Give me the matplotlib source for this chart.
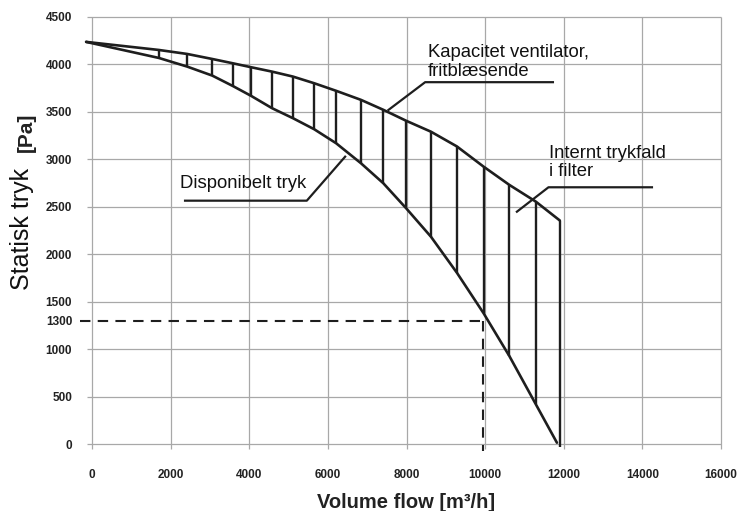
import matplotlib.pyplot as plt

# hatch positions along the flow axis and the two curves at each of them
flow = [-150, 1700, 2420, 3060, 3580, 4050, 4580, 5110, 5650, 6210, 6840,
        7410, 7990, 8620, 9280, 9960, 10615, 11285, 11900]
kapacitet = [4235, 4150, 4108, 4055, 4010, 3968, 3922, 3870, 3800, 3720, 3625,
             3520, 3405, 3290, 3135, 2922, 2730, 2555, 2355]
disponibel = [4235, 4066, 3975, 3880, 3771, 3666, 3537, 3432, 3316, 3168, 2958,
              2747, 2484, 2185, 1806, 1379, 929, 424, -30]
disp_end = (11825, 17)

arbejdspunkt = (9950, 1300)

x_ticks = [0, 2000, 4000, 6000, 8000, 10000, 12000, 14000, 16000]
y_ticks = [0, 500, 1000, 1300, 1500, 2000, 2500, 3000, 3500, 4000, 4500]
y_grid = [0, 500, 1000, 1500, 2000, 2500, 3000, 3500, 4000, 4500]

plt.rcParams['font.family'] = ['Liberation Sans', 'DejaVu Sans']

fig = plt.figure(figsize=(7.38, 5.11), dpi=100)
ax = fig.add_axes([0.1034, 0.0933, 0.8843, 0.8833])
ax.set_xlim(-400, 16200)
ax.set_ylim(-200, 4550)
for s in ax.spines.values():
    s.set_visible(False)

# grid
ax.hlines(y_grid, -120, 16000, color='#a8a8a8', lw=0.9, zorder=1)
ax.vlines(x_ticks, -45, 4500, color='#a8a8a8', lw=0.9, zorder=1)

ax.set_xticks(x_ticks)
ax.set_yticks(y_ticks)
ax.tick_params(length=0)
ax.tick_params(axis='x', pad=4)
ax.tick_params(axis='y', pad=3)
for lab in ax.get_xticklabels() + ax.get_yticklabels():
    lab.set_fontsize(8.5)
    lab.set_fontweight('bold')
    lab.set_color('#222222')

lc = '#1e1e1e'
# curves
ax.plot(flow, kapacitet, color=lc, lw=1.9, zorder=3, solid_capstyle='round')
ax.plot(flow[:-1] + [disp_end[0]], disponibel[:-1] + [disp_end[1]],
        color=lc, lw=1.9, zorder=3, solid_capstyle='round')
# hatch
ax.vlines(flow[1:], disponibel[1:], kapacitet[1:], color=lc, lw=1.7, zorder=3)

# working point
ax.plot([-300, arbejdspunkt[0]], [arbejdspunkt[1], arbejdspunkt[1]],
        color=lc, lw=1.5, dashes=(5, 3.5), zorder=2)
ax.plot([arbejdspunkt[0], arbejdspunkt[0]], [arbejdspunkt[1], -70],
        color=lc, lw=1.5, dashes=(5, 3.5), zorder=2)

# annotations
ax.text(8540, 4022, 'Kapacitet ventilator,\nfritblæsende', fontsize=13.3,
        va='center', ha='left', linespacing=1.15, color='#111111')
ax.plot([7540, 8473, 11723], [3519, 3811, 3811], color=lc, lw=1.6, zorder=3)

ax.text(11636, 2966, 'Internt trykfald\ni filter', fontsize=13.3,
        va='center', ha='left', linespacing=1.15, color='#111111')
ax.plot([10807, 11610, 14242], [2448, 2705, 2705], color=lc, lw=1.6, zorder=3)

ax.text(2239, 2747, 'Disponibelt tryk', fontsize=13.3,
        va='center', ha='left', color='#111111')
ax.plot([2366, 5463, 6438], [2564, 2564, 3027], color=lc, lw=1.6, zorder=3)

# axis labels
fig.text(406 / 738, 1 - 502.7 / 511, 'Volume flow [m³/h]', fontsize=14.5,
         fontweight='bold', ha='center', va='center', color='#222222')
fig.text(22 / 738, 1 - 229 / 511, 'Statisk tryk', fontsize=18, rotation=90,
         ha='center', va='center', color='#111111')
fig.text(26 / 738, 1 - 132.5 / 511, '[Pa]', fontsize=15, fontweight='bold',
         rotation=90, ha='center', va='center', color='#222222')

fig.savefig('out.png', dpi=100)
